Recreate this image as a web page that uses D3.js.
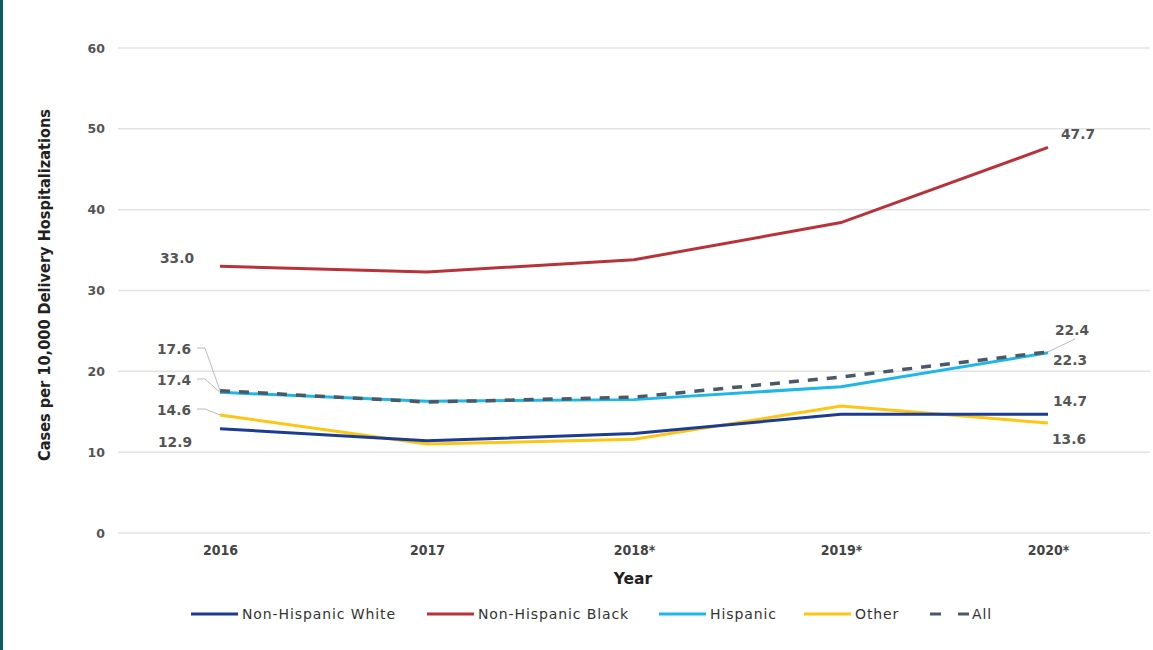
<!DOCTYPE html>
<html><head><meta charset="utf-8">
<script src="https://cdn.jsdelivr.net/npm/d3@7"></script>
<style>
html,body{margin:0;padding:0;background:#fff;}
svg{display:block;}
</style></head>
<body>
<svg id="chart" width="1153" height="650"></svg>
<script>
const years = ["2016","2017","2018*","2019*","2020*"];
const nhWhite = [12.9, 11.4, 12.3, 14.7, 14.7];
const nhBlack = [33.0, 32.3, 33.8, 38.4, 47.7];
const hispanic = [17.4, 16.3, 16.5, 18.1, 22.3];
const other = [14.6, 11.0, 11.6, 15.7, 13.6];
const all = [17.6, 16.2, 16.8, 19.3, 22.4];
const yTicks = [0, 10, 20, 30, 40, 50, 60];

const series = [
  {name:"Non-Hispanic White", values:nhWhite, color:"#1c3c92", dash:null},
  {name:"Non-Hispanic Black", values:nhBlack, color:"#b8323a", dash:null},
  {name:"Hispanic", values:hispanic, color:"#1fb7e8", dash:null},
  {name:"Other", values:other, color:"#fdc514", dash:null},
  {name:"All", values:all, color:"#4b5966", dash:"10,9"}
];

const svg = d3.select("#chart");
svg.append("rect").attr("x",0).attr("y",0).attr("width",3).attr("height",650).attr("fill","#0d5c5e");

const plotLeft = 118, plotRight = 1150, plotTop = 48, plotBottom = 533;
const x = d3.scalePoint().domain(years).range([220, 1048]);
const y = d3.scaleLinear().domain([0,60]).range([plotBottom, plotTop]);

svg.append("g").selectAll("line").data(yTicks).join("line")
  .attr("x1",plotLeft).attr("x2",plotRight)
  .attr("y1",d=>y(d)).attr("y2",d=>y(d))
  .attr("stroke","#e3e3e3").attr("stroke-width",1.5);

const yAxis = d3.axisLeft(y).tickValues(yTicks).tickSize(0).tickPadding(0);
const gy = svg.append("g").attr("transform",`translate(105,0)`).call(yAxis);
gy.select(".domain").remove();
gy.selectAll("text").attr("font-family","DejaVu Sans, Verdana, sans-serif")
  .attr("font-size","12.5px").attr("fill","#555").attr("font-weight","bold");

const xAxis = d3.axisBottom(x).tickSize(0).tickPadding(0);
const gx = svg.append("g").attr("transform",`translate(0,545)`).call(xAxis);
gx.select(".domain").remove();
gx.selectAll("text").attr("font-family","DejaVu Sans Condensed, DejaVu Sans, sans-serif")
  .attr("font-size","14px").attr("fill","#444").attr("font-weight","bold");

svg.append("text").attr("x",633).attr("y",584).attr("text-anchor","middle")
  .attr("font-family","DejaVu Sans, Verdana, sans-serif").attr("font-weight","bold")
  .attr("font-size","15.5px").attr("fill","#222").text("Year");
svg.append("text").attr("transform","translate(50,285) rotate(-90)").attr("text-anchor","middle")
  .attr("font-family","DejaVu Sans Condensed, DejaVu Sans, sans-serif").attr("font-weight","bold")
  .attr("font-size","16.2px").attr("fill","#222").text("Cases per 10,000 Delivery Hospitalizations");

const line = d3.line().x((d,i)=>x(years[i])).y(d=>y(d));
const order = [series[1], series[3], series[0], series[2], series[4]];
svg.append("g").selectAll("path").data(order).join("path")
  .attr("d",d=>line(d.values)).attr("fill","none")
  .attr("stroke",d=>d.color).attr("stroke-width",d=>d.dash?3.5:3)
  .attr("stroke-dasharray",d=>d.dash);

const lf = "DejaVu Sans, Verdana, sans-serif";
const labels = [
  {t:nhBlack[0].toFixed(1), x:194, y:263, a:"end"},
  {t:nhBlack[4].toFixed(1), x:1061, y:139, a:"start"},
  {t:all[0].toFixed(1), x:191, y:354, a:"end"},
  {t:hispanic[0].toFixed(1), x:191, y:385, a:"end"},
  {t:other[0].toFixed(1), x:191, y:415, a:"end"},
  {t:nhWhite[0].toFixed(1), x:192, y:447, a:"end"},
  {t:all[4].toFixed(1), x:1055, y:335, a:"start"},
  {t:hispanic[4].toFixed(1), x:1053, y:365, a:"start"},
  {t:nhWhite[4].toFixed(1), x:1053, y:406, a:"start"},
  {t:other[4].toFixed(1), x:1052, y:444, a:"start"}
];
svg.append("g").selectAll("text").data(labels).join("text")
  .attr("x",d=>d.x).attr("y",d=>d.y).attr("text-anchor",d=>d.a)
  .attr("font-family",lf).attr("font-size","13.8px").attr("font-weight","bold")
  .attr("fill","#555").text(d=>d.t);

const leaders = [
  [[197,348],[205,348],[220,y(all[0])]],
  [[197,379],[205,379],[220,y(hispanic[0])]],
  [[197,409],[205,409],[220,y(other[0])]],
  [[x(years[4]),y(all[4])],[1075,339]]
];
svg.append("g").selectAll("path").data(leaders).join("path")
  .attr("d",d=>d3.line()(d)).attr("fill","none").attr("stroke","#bbb").attr("stroke-width",1);

const legX = [191, 427, 659, 804, 930];
const lg = svg.append("g").selectAll("g").data(series).join("g")
  .attr("transform",(d,i)=>`translate(${legX[i]},614)`);
lg.append("line").attr("x1",0).attr("x2",d=>d.dash?39:47).attr("y1",0).attr("y2",0)
  .attr("stroke",d=>d.color).attr("stroke-width",3)
  .attr("stroke-dasharray",d=>d.dash?"11,17":null);
lg.append("text").attr("x",d=>d.dash?42:51).attr("y",5)
  .attr("font-family","DejaVu Sans, Verdana, sans-serif").attr("font-size","14px")
  .attr("letter-spacing","0.9px")
  .attr("fill","#333").text(d=>d.name);
</script>
</body></html>
